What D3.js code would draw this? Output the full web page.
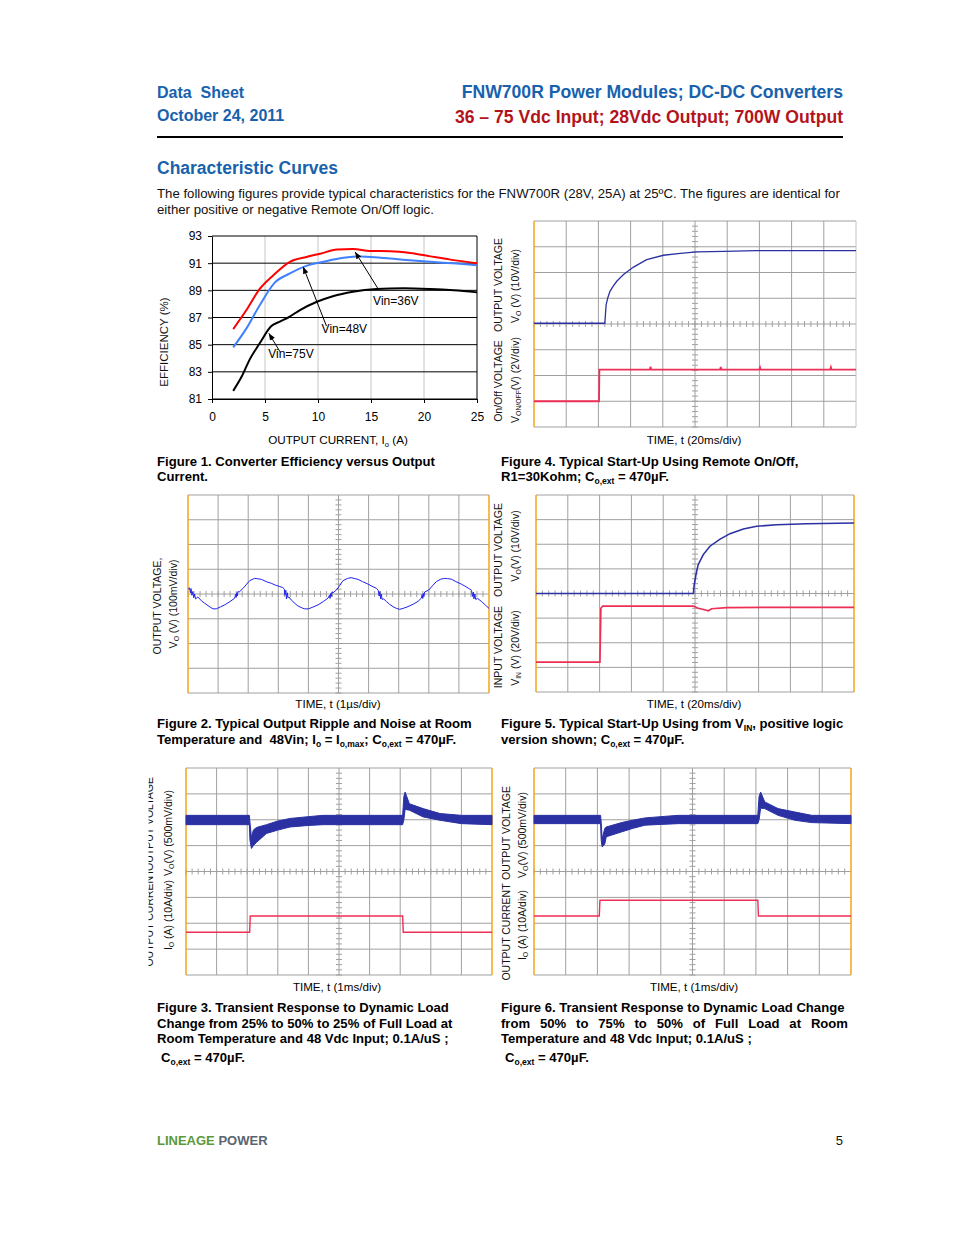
<!DOCTYPE html>
<html><head><meta charset="utf-8">
<script src="https://cdn.jsdelivr.net/npm/d3@7"></script>
<style>
body{margin:0;background:#fff;}
svg text{font-family:"Liberation Sans",Arial,Helvetica,sans-serif;white-space:pre;}
</style></head><body>
<svg id="page" width="954" height="1235"></svg>
<script>
// ---------------- DATA ----------------
// Figure 1: efficiency vs output current
const fig1XTicks = [0, 5, 10, 15, 20, 25];
const fig1YTicks = [81, 83, 85, 87, 89, 91, 93];
const eff36V = [[2,86.15],[3.25,87.55],[4.5,89.1],[5.77,90.1],[7.35,91.1],[8.9,91.46],[10.2,91.7],[11.8,92.0],[13.3,92.05],[14.9,91.9],[16.8,91.88],[18.7,91.75],[20.6,91.5],[22.5,91.26],[25,91.0]];
const eff48V = [[2,84.8],[3.25,86.2],[4.5,87.9],[5.9,89.55],[7.35,90.24],[8.9,90.8],[10.5,91.1],[12.4,91.4],[14,91.5],[15.9,91.4],[18,91.26],[20.6,91.1],[23.1,90.97],[25,90.85]];
const eff75V = [[2,81.6],[2.8,82.65],[3.55,83.9],[4.5,85.1],[5.6,86.37],[6.4,86.7],[7.2,87.0],[8.3,87.55],[9.9,88.16],[11.4,88.57],[13.3,88.9],[15.5,89.1],[18.1,89.16],[20.6,89.1],[22.8,89.0],[25,88.85]];
const fig1Labels = ["Vin=36V", "Vin=48V", "Vin=75V"];
const fig1LabelPos = [[15.2,87.9],[10.34,85.84],[5.3,84.0]];
const fig1ArrowFrom = [[15.76,89.0],[10.8,86.37],[6.4,84.5]];
const fig1ArrowTo = [[13.5,91.83],[8.6,90.73],[5.36,85.84]];

// Scope traces: [time (div), level (div from centre)]
const fig4Vout = [[0,0.03],[1,0.03],[2.2,0.03],[2.22,0.4],[2.24,0.75],[2.3,1.05],[2.36,1.27],[2.45,1.45],[2.57,1.66],[2.78,1.92],[3.09,2.21],[3.5,2.5],[4.02,2.67],[4.54,2.74],[5.06,2.8],[5.9,2.82],[6.92,2.85],[10,2.85]];
const fig4OnOff = [[0,-3.0],[2.02,-3.0],[2.03,-1.77],[3.6,-1.77],[3.62,-1.66],[3.64,-1.77],[5.78,-1.77],[5.8,-1.67],[5.82,-1.77],[7.0,-1.77],[7.02,-1.69],[7.04,-1.77],[9.2,-1.77],[9.22,-1.68],[9.24,-1.77],[10,-1.77]];

const fig2Ripple = [[0,0.19],[0.05,0.25],[0.08,0.05],[0.1,0.22],[0.13,-0.05],[0.16,0.1],[0.19,-0.15],[0.22,0.0],[0.25,-0.2],[0.33,-0.12],[0.45,-0.28],[0.55,-0.37],[0.7,-0.5],[0.83,-0.6],[0.94,-0.6],[1.08,-0.52],[1.22,-0.44],[1.4,-0.3],[1.55,-0.17],[1.58,-0.02],[1.6,-0.14],[1.62,0.05],[1.64,-0.08],[1.66,0.1],[1.7,0.08],[1.83,0.23],[1.95,0.4],[2.05,0.54],[2.21,0.63],[2.3,0.62],[2.44,0.59],[2.6,0.5],[2.77,0.43],[2.9,0.36],[3.05,0.3],[3.15,0.26],[3.2,0.2],[3.22,-0.05],[3.25,0.15],[3.27,-0.2],[3.3,0.05],[3.32,-0.15],[3.35,-0.12],[3.43,-0.24],[3.55,-0.38],[3.65,-0.48],[3.8,-0.57],[3.88,-0.6],[4.0,-0.6],[4.15,-0.53],[4.32,-0.44],[4.5,-0.3],[4.65,-0.17],[4.7,-0.05],[4.72,-0.18],[4.74,0.02],[4.76,-0.1],[4.78,0.08],[4.82,0.05],[4.93,0.16],[5.05,0.36],[5.15,0.54],[5.3,0.63],[5.42,0.66],[5.52,0.63],[5.65,0.59],[5.8,0.5],[5.98,0.4],[6.1,0.32],[6.26,0.23],[6.32,0.15],[6.35,-0.08],[6.37,0.1],[6.4,-0.2],[6.42,0.0],[6.45,-0.22],[6.5,-0.2],[6.59,-0.3],[6.7,-0.42],[6.81,-0.51],[6.92,-0.58],[7.03,-0.62],[7.15,-0.58],[7.31,-0.51],[7.5,-0.4],[7.64,-0.3],[7.75,-0.17],[7.78,-0.02],[7.8,-0.18],[7.82,0.02],[7.84,-0.1],[7.86,0.08],[8.0,0.16],[8.12,0.33],[8.25,0.5],[8.4,0.6],[8.53,0.63],[8.62,0.62],[8.75,0.6],[8.9,0.5],[9.08,0.4],[9.2,0.32],[9.36,0.2],[9.42,0.15],[9.45,-0.1],[9.48,0.08],[9.5,-0.2],[9.53,0.0],[9.56,-0.22],[9.62,-0.18],[9.75,-0.3],[9.88,-0.45],[10,-0.58]];

const fig5Vout = [[0,0],[4.95,0],[4.97,0.3],[5.03,0.77],[5.1,1.17],[5.26,1.58],[5.47,1.92],[5.79,2.21],[6.1,2.43],[6.52,2.62],[6.94,2.73],[7.57,2.79],[8.51,2.83],[10,2.86]];
const fig5Vin = [[0,-2.79],[2.01,-2.79],[2.04,-0.6],[2.1,-0.51],[4.95,-0.51],[5.1,-0.6],[5.3,-0.66],[5.42,-0.7],[5.52,-0.62],[6,-0.57],[10,-0.56]];

const fig3Time = [0,2.07,2.09,2.14,2.2,2.3,2.63,3.0,3.4,4.0,4.48,7.08,7.12,7.16,7.3,7.75,8.3,9.0,10];
const fig3VoutHigh = [2.17,2.17,1.9,1.3,1.6,1.7,1.81,1.95,2.05,2.12,2.17,2.17,2.9,3.07,2.62,2.43,2.24,2.17,2.17];
const fig3VoutLow = [1.81,1.81,1.2,0.89,1.0,1.12,1.47,1.6,1.72,1.78,1.81,1.81,2.0,2.4,2.37,2.11,1.98,1.85,1.81];
const fig3Iout = [[0,-2.35],[2.08,-2.35],[2.1,-1.72],[7.08,-1.72],[7.1,-2.35],[10,-2.35]];

const fig6Time = [0,2.1,2.12,2.15,2.23,2.28,2.76,3.1,3.5,4.0,4.55,7.06,7.1,7.15,7.28,7.7,8.23,8.76,10];
const fig6VoutHigh = [2.17,2.17,1.9,1.25,1.66,1.72,1.89,1.98,2.07,2.12,2.17,2.17,2.9,3.07,2.69,2.43,2.3,2.17,2.17];
const fig6VoutLow = [1.85,1.85,1.2,0.95,1.05,1.34,1.53,1.66,1.79,1.82,1.85,1.85,2.0,2.45,2.43,2.17,1.98,1.89,1.85];
const fig6Iout = [[0,-1.72],[2.06,-1.72],[2.08,-1.11],[7.06,-1.11],[7.08,-1.72],[10,-1.72]];

// ---------------- STYLE ----------------
const HEAD_BLUE = "#1862ad";
const HEAD_RED = "#b3141c";
const GRID = "#a0a0a0";
const ORANGE = "#f4a51c";
const TRACE_BLUE = "#2b31a3";
const TRACE_RED = "#ee2f55";

const svg = d3.select("#page");

function addText(x, y, parts, o = {}) {
  const t = svg.append("text").attr("x", x).attr("y", y)
    .attr("font-size", o.size || 12)
    .attr("font-weight", o.bold ? "bold" : null)
    .attr("fill", o.color || "#000")
    .attr("text-anchor", o.anchor || "start");
  if (typeof parts === "string") parts = [[parts]];
  parts.forEach(p => {
    const s = t.append("tspan").text(p[0]);
    if (p[1] === "sub") s.attr("font-size", (o.size || 12) * 0.65).attr("dy", 2.5);
    else if (p[1] === "back") s.attr("dy", -2.5);
    if (p[2]) s.attr("fill", p[2]);
  });
  return t;
}

function vLabel(xc, yc, parts, size, clip) {
  const parent = clip ? svg.append("g").attr("clip-path", clip) : svg;
  const t = parent.append("text")
    .attr("transform", `translate(${xc},${yc}) rotate(-90)`)
    .attr("text-anchor", "middle").attr("dy", "0.35em")
    .attr("font-size", size).attr("fill", "#111");
  if (typeof parts === "string") parts = [[parts]];
  parts.forEach(p => {
    const s = t.append("tspan").text(p[0]);
    if (p[1] === "sub") s.attr("font-size", size * 0.65).attr("dy", 2);
    else if (p[1] === "back") s.attr("dy", -2);
  });
}

// ---------------- HEADER ----------------
addText(157, 98, "Data  Sheet", {size: 16, bold: true, color: HEAD_BLUE});
addText(157, 121, "October 24, 2011", {size: 16, bold: true, color: HEAD_BLUE});
addText(843, 98, "FNW700R Power Modules; DC-DC Converters", {size: 17.6, bold: true, color: HEAD_BLUE, anchor: "end"});
addText(843, 123, "36 – 75 Vdc Input; 28Vdc Output; 700W Output", {size: 17.6, bold: true, color: HEAD_RED, anchor: "end"});
svg.append("line").attr("x1", 157).attr("x2", 843).attr("y1", 137).attr("y2", 137).attr("stroke", "#000").attr("stroke-width", 2);
addText(157, 174, "Characteristic Curves", {size: 17.5, bold: true, color: HEAD_BLUE});
addText(157, 198, "The following figures provide typical characteristics for the FNW700R (28V, 25A) at 25ºC. The figures are identical for", {size: 13.2, color: "#111"});
addText(157, 214, "either positive or negative Remote On/Off logic.", {size: 13.2, color: "#111"});

// ---------------- FIGURE 1 ----------------
(function () {
  const x = d3.scaleLinear([0, 25], [212, 477]);
  const y = d3.scaleLinear([81, 93], [399, 236]);
  const g = svg.append("g");
  g.selectAll(".vg").data(fig1XTicks.slice(1, -1)).join("line")
    .attr("x1", d => x(d)).attr("x2", d => x(d)).attr("y1", y(81)).attr("y2", y(93))
    .attr("stroke", "#c6c6c6").attr("stroke-width", 1);
  g.selectAll(".hg").data(fig1YTicks).join("line")
    .attr("x1", x(0)).attr("x2", x(25)).attr("y1", d => y(d)).attr("y2", d => y(d))
    .attr("stroke", "#000").attr("stroke-width", 1);
  g.append("line").attr("x1", x(25)).attr("x2", x(25)).attr("y1", y(81)).attr("y2", y(93)).attr("stroke", "#000");
  const ax = g.append("g").attr("transform", `translate(0,${y(81)})`)
    .call(d3.axisBottom(x).tickValues(fig1XTicks).tickSize(4).tickPadding(9).tickSizeOuter(0));
  const ay = g.append("g").attr("transform", `translate(${x(0)},0)`)
    .call(d3.axisLeft(y).tickValues(fig1YTicks).tickSize(4).tickPadding(6).tickSizeOuter(0));
  [ax, ay].forEach(a => {
    a.selectAll("text").attr("font-size", 12).attr("fill", "#000").attr("font-family", '"Liberation Sans",Arial,sans-serif');
    a.selectAll("line,path").attr("stroke", "#000");
  });
  const line = d3.line().x(d => x(d[0])).y(d => y(d[1])).curve(d3.curveMonotoneX);
  [[eff75V, "#000"], [eff48V, "#3f80ff"], [eff36V, "#ff0000"]].forEach(([d, c]) => {
    g.append("path").attr("d", line(d)).attr("fill", "none").attr("stroke", c).attr("stroke-width", 2);
  });
  svg.append("defs").append("marker").attr("id", "arr").attr("viewBox", "0 0 10 10")
    .attr("refX", 10).attr("refY", 5).attr("markerWidth", 7).attr("markerHeight", 7).attr("orient", "auto")
    .append("path").attr("d", "M0,1 L10,5 L0,9 Z").attr("fill", "#000");
  fig1Labels.forEach((lab, i) => {
    g.append("line").attr("x1", x(fig1ArrowFrom[i][0])).attr("y1", y(fig1ArrowFrom[i][1]))
      .attr("x2", x(fig1ArrowTo[i][0])).attr("y2", y(fig1ArrowTo[i][1]))
      .attr("stroke", "#000").attr("stroke-width", 1).attr("marker-end", "url(#arr)");
    g.append("text").attr("x", x(fig1LabelPos[i][0])).attr("y", y(fig1LabelPos[i][1]))
      .attr("font-size", 12).attr("fill", "#000").text(lab);
  });
  addText(338, 444, [["OUTPUT CURRENT, I"], ["o", "sub"], [" (A)", "back"]], {size: 11.7, anchor: "middle"});
  vLabel(164, 342, "EFFICIENCY (%)", 11.5);
})();

// ---------------- SCOPE HELPER ----------------
function scope(cfg) {
  const x = d3.scaleLinear([0, 10], [cfg.x0, cfg.x1]);
  const y = d3.scaleLinear([-4, 4], [cfg.y1, cfg.y0]);
  const g = svg.append("g");
  g.selectAll(".vg").data(d3.range(1, 10)).join("line")
    .attr("x1", d => x(d)).attr("x2", d => x(d)).attr("y1", y(-4)).attr("y2", y(4))
    .attr("stroke", GRID).attr("stroke-width", 1);
  g.selectAll(".hg").data(d3.range(-4, 5)).join("line")
    .attr("x1", x(0)).attr("x2", x(10)).attr("y1", d => y(d)).attr("y2", d => y(d))
    .attr("stroke", GRID).attr("stroke-width", 1);
  g.selectAll(".mx").data(d3.range(0, 50).map(i => i * 0.2)).join("line")
    .attr("x1", d => x(d)).attr("x2", d => x(d)).attr("y1", y(0) - 3).attr("y2", y(0) + 3)
    .attr("stroke", GRID).attr("stroke-width", 1);
  g.selectAll(".my").data(d3.range(0, 40).map(i => -4 + i * 0.2)).join("line")
    .attr("x1", x(5) - 3).attr("x2", x(5) + 3).attr("y1", d => y(d)).attr("y2", d => y(d))
    .attr("stroke", GRID).attr("stroke-width", 1);
  g.append("line").attr("x1", x(0)).attr("x2", x(0)).attr("y1", y(-4)).attr("y2", y(4)).attr("stroke", ORANGE).attr("stroke-width", 1.5);
  g.append("line").attr("x1", x(10)).attr("x2", x(10)).attr("y1", y(-4)).attr("y2", y(4))
    .attr("stroke", cfg.rightOrange ? ORANGE : "#c4c4c4").attr("stroke-width", cfg.rightOrange ? 1.5 : 1);
  (cfg.bands || []).forEach(b => {
    const data = b.t.map((t, i) => [t, b.hi[i], b.lo[i]]);
    g.append("path").attr("d", d3.area().x(d => x(d[0])).y0(d => y(d[2])).y1(d => y(d[1]))(data))
      .attr("fill", b.color).attr("stroke", b.color).attr("stroke-width", 1);
  });
  (cfg.lines || []).forEach(l => {
    g.append("path").attr("d", d3.line().x(d => x(d[0])).y(d => y(d[1]))(l.d))
      .attr("fill", "none").attr("stroke", l.color).attr("stroke-width", l.w || 1.3);
  });
}

// Figure 4
scope({x0: 534, x1: 856, y0: 221, y1: 427, rightOrange: false,
  lines: [{d: fig4Vout, color: TRACE_BLUE, w: 1.3}, {d: fig4OnOff, color: TRACE_RED, w: 1.8}]});
vLabel(498, 285, "OUTPUT VOLTAGE", 10.5);
vLabel(515, 286, [["V"], ["O", "sub"], [" (V) (10V/div)", "back"]], 10.5);
vLabel(498, 381, "On/Off VOLTAGE", 10.5);
vLabel(515, 380, [["V"], ["ON/OFF", "sub"], ["(V) (2V/div)", "back"]], 10.5);
addText(694, 444, "TIME, t (20ms/div)", {size: 11.6, anchor: "middle"});

// Figure 2
scope({x0: 188, x1: 489, y0: 495, y1: 693, rightOrange: true,
  lines: [{d: fig2Ripple, color: "#1f22f0", w: 1}]});
vLabel(157, 606, "OUTPUT VOLTAGE,", 10.5);
vLabel(173, 604, [["V"], ["O", "sub"], [" (V) (100mV/div)", "back"]], 10.5);
addText(338, 708, "TIME, t (1µs/div)", {size: 11.6, anchor: "middle"});

// Figure 5
scope({x0: 536, x1: 854, y0: 495, y1: 692, rightOrange: true,
  lines: [{d: fig5Vout, color: TRACE_BLUE, w: 1.6}, {d: fig5Vin, color: TRACE_RED, w: 1.7}]});
vLabel(498, 550, "OUTPUT VOLTAGE", 10.5);
vLabel(515, 546, [["V"], ["O", "sub"], ["(V) (10V/div)", "back"]], 10.5);
vLabel(498, 647, "INPUT VOLTAGE", 10.5);
vLabel(515, 648, [["V"], ["IN", "sub"], [" (V) (20V/div)", "back"]], 10.5);
addText(694, 708, "TIME, t (20ms/div)", {size: 11.6, anchor: "middle"});

// Figure 3
scope({x0: 186, x1: 492, y0: 768, y1: 975, rightOrange: true,
  bands: [{t: fig3Time, hi: fig3VoutHigh, lo: fig3VoutLow, color: TRACE_BLUE}],
  lines: [{d: fig3Iout, color: TRACE_RED, w: 1.4}]});
svg.append("clipPath").attr("id", "clip3").append("rect").attr("x", 148.5).attr("y", 700).attr("width", 30).attr("height", 320);
vLabel(149.5, 918, "OUTPUT CURRENT", 10.5, "url(#clip3)");
vLabel(149.5, 824, "OUTPUT VOLTAGE", 10.5, "url(#clip3)");
vLabel(168, 915, [["I"], ["O", "sub"], [" (A) (10A/div)", "back"]], 10.5);
vLabel(168, 833, [["V"], ["O", "sub"], ["(V) (500mV/div)", "back"]], 10.5);
addText(337, 991, "TIME, t (1ms/div)", {size: 11.6, anchor: "middle"});

// Figure 6
scope({x0: 534, x1: 851, y0: 768, y1: 975, rightOrange: true,
  bands: [{t: fig6Time, hi: fig6VoutHigh, lo: fig6VoutLow, color: TRACE_BLUE}],
  lines: [{d: fig6Iout, color: TRACE_RED, w: 1.4}]});
vLabel(506, 932, "OUTPUT CURRENT", 10.5);
vLabel(506, 833, "OUTPUT VOLTAGE", 10.5);
vLabel(522, 925, [["I"], ["O", "sub"], [" (A) (10A/div)", "back"]], 10.5);
vLabel(522, 835, [["V"], ["O", "sub"], ["(V) (500mV/div)", "back"]], 10.5);
addText(694, 991, "TIME, t (1ms/div)", {size: 11.6, anchor: "middle"});

// ---------------- CAPTIONS ----------------
const CB = {size: 13.1, bold: true};
addText(157, 466, "Figure 1. Converter Efficiency versus Output", CB);
addText(157, 481, "Current.", CB);
addText(501, 466, "Figure 4. Typical Start-Up Using Remote On/Off,", CB);
addText(501, 481, [["R1=30Kohm; C"], ["o,ext", "sub"], [" = 470µF.", "back"]], CB);
addText(157, 728, "Figure 2. Typical Output Ripple and Noise at Room", CB);
addText(157, 744, [["Temperature and  48Vin; I"], ["o", "sub"], [" = I", "back"], ["o,max", "sub"], ["; C", "back"], ["o,ext", "sub"], [" = 470µF.", "back"]], CB);
addText(501, 728, [["Figure 5. Typical Start-Up Using from V"], ["IN", "sub"], [", positive logic", "back"]], CB);
addText(501, 744, [["version shown; C"], ["o,ext", "sub"], [" = 470µF.", "back"]], CB);
addText(157, 1012, "Figure 3. Transient Response to Dynamic Load", CB);
addText(157, 1028, "Change from 25% to 50% to 25% of Full Load at", CB);
addText(157, 1043, "Room Temperature and 48 Vdc Input; 0.1A/uS ;", CB);
addText(161, 1062, [["C"], ["o,ext", "sub"], [" = 470µF.", "back"]], CB);
addText(501, 1012, "Figure 6. Transient Response to Dynamic Load Change", CB);
(function () {
  const words = ["from", "50%", "to", "75%", "to", "50%", "of", "Full", "Load", "at", "Room"];
  const x0 = 501, x1 = 848;
  const nodes = words.map(w => addText(0, 1028, w, CB));
  const widths = nodes.map(n => n.node().getComputedTextLength());
  const gap = (x1 - x0 - d3.sum(widths)) / (words.length - 1);
  let cx = x0;
  nodes.forEach((n, i) => { n.attr("x", cx); cx += widths[i] + gap; });
})();
addText(501, 1043, "Temperature and 48 Vdc Input; 0.1A/uS ;", CB);
addText(505, 1062, [["C"], ["o,ext", "sub"], [" = 470µF.", "back"]], CB);

// ---------------- FOOTER ----------------
addText(157, 1145, [["LINEAGE", null, "#5a9a3b"], [" POWER", null, "#5b6570"]], {size: 13, bold: true});
addText(843, 1145, "5", {size: 13, anchor: "end", color: "#111"});
</script>
</body></html>
